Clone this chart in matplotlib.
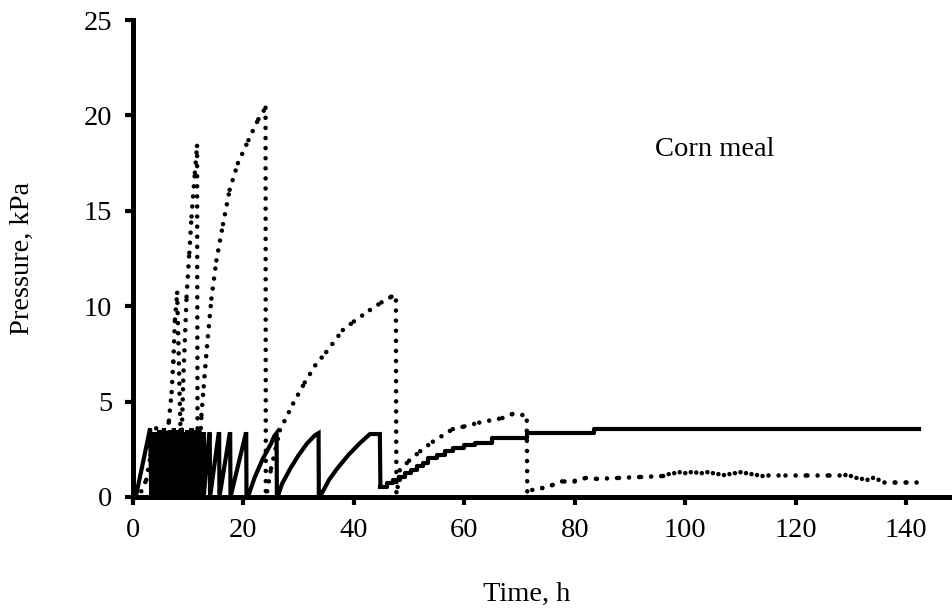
import numpy as np
import matplotlib
matplotlib.use("Agg")
import matplotlib.pyplot as plt
from matplotlib.collections import LineCollection

# ---------------- data ----------------
# Solid series: first tooth and the dense sawtooth burst (time h, pressure kPa)
solid_t = [0.5, 3.1, 3.3, 3.4,
           3.6, 3.6, 3.8, 3.8, 4.0, 4.0, 4.2, 4.2, 4.4, 4.4, 4.6, 4.6,
           4.8, 4.8, 5.0, 5.0, 5.2, 5.2, 5.4, 5.4, 5.6, 5.6, 5.8, 5.8,
           6.0, 6.0, 6.2, 6.2, 6.4, 6.4, 6.6, 6.6, 6.8, 6.8, 7.0, 7.0,
           7.2, 7.2, 7.4, 7.4, 7.6, 7.6, 7.8, 7.8, 8.0, 8.0, 8.2, 8.2,
           8.4, 8.4, 8.6, 8.6, 8.8, 8.8, 9.0, 9.0, 9.2, 9.2, 9.4, 9.4,
           9.6, 9.6, 9.8, 9.8, 10.0, 10.0, 10.2, 10.2, 10.4, 10.4,
           10.6, 10.6, 10.8, 10.8, 11.0, 11.0, 11.2, 11.2, 11.4, 11.4,
           11.6, 11.6, 11.8, 11.8, 12.0, 12.0, 12.2, 12.2, 12.4, 12.4,
           12.6, 12.6, 12.8, 12.8,
           13.8, 13.9, 13.95, 15.5, 15.6, 15.65, 17.5, 17.6, 17.65,
           20.4, 20.5, 20.55,
           20.8, 22.0, 23.5, 25.0, 25.6, 26.0, 26.05,
           26.3, 27.0, 28.5, 30.0, 31.5, 33.0, 33.6, 33.65,
           34.2, 35.5, 37.0, 39.0, 41.0, 42.9, 44.7, 44.8]
solid_p = [0.0, 3.6, 0.0, 0.0,
           3.3, 0.0, 3.4, 0.0, 3.3, 0.0, 3.4, 0.0, 3.3, 0.0, 3.4, 0.0,
           3.5, 0.0, 3.3, 0.0, 3.4, 0.0, 3.5, 0.0, 3.6, 0.0, 3.4, 0.0,
           3.3, 0.0, 3.4, 0.0, 3.3, 0.0, 3.4, 0.0, 3.5, 0.0, 3.3, 0.0,
           3.4, 0.0, 3.6, 0.0, 3.4, 0.0, 3.3, 0.0, 3.4, 0.0, 3.5, 0.0,
           3.3, 0.0, 3.4, 0.0, 3.6, 0.0, 3.4, 0.0, 3.3, 0.0, 3.4, 0.0,
           3.3, 0.0, 3.5, 0.0, 3.4, 0.0, 3.3, 0.0, 3.4, 0.0,
           3.6, 0.0, 3.4, 0.0, 3.3, 0.0, 3.5, 0.0, 3.4, 0.0,
           3.3, 0.0, 3.4, 0.0, 3.5, 0.0, 3.3, 0.0, 3.4, 0.0,
           3.3, 0.0, 3.4, 0.0,
           3.3, 3.3, 0.0, 3.3, 3.3, 0.0, 3.3, 3.3, 0.0,
           3.3, 3.3, 0.0,
           0.0, 1.0, 2.0, 2.8, 3.2, 3.35, 0.0,
           0.1, 0.7, 1.5, 2.2, 2.8, 3.25, 3.35, 0.0,
           0.2, 0.9, 1.5, 2.2, 2.8, 3.3, 3.3, 0.55]
# Solid series, staircase part (steps-post)
step_t = [44.8, 46.0, 47.0, 48.3, 49.3, 50.3, 51.5, 52.5, 53.5, 55.0, 56.5,
          58.0, 60.0, 62.0, 65.0, 71.4, 83.5, 142.3]
step_p = [0.55, 0.75, 0.9, 1.06, 1.25, 1.41, 1.6, 1.8, 2.03, 2.2, 2.4,
          2.55, 2.7, 2.85, 3.07, 3.35, 3.55, 3.55]

# Dotted series
dot_t = [0.0, 1.5, 2.4, 3.2, 4.2, 4.5, 5.5, 6.5, 7.0, 7.3, 7.6, 8.0,
         8.6, 8.8, 9.1, 9.7, 10.2, 10.6, 11.2, 11.6, 11.7,
         11.9, 12.4, 12.8, 13.4, 14.2, 15.1, 16.3, 17.5, 19.0, 20.9, 22.7, 24.0, 24.05,
         24.3, 25.0, 26.6, 29.0, 31.1, 33.0, 35.0, 38.0, 40.0, 42.9, 45.0, 46.8, 47.6, 47.7,
         48.3, 50.0, 52.0, 54.3, 57.9, 60.0, 62.7, 66.9, 68.7, 70.5, 71.3, 71.4,
         72.3, 74.1, 76.0, 78.0, 80.0, 82.0, 84.0, 88.0, 92.0, 96.0,
         97.0, 98.0, 99.0, 100.0, 101.0, 102.0, 103.0, 104.0, 105.0, 106.0,
         107.0, 108.0, 109.0, 110.0, 111.0, 112.0, 113.0, 114.0, 115.0,
         118.0, 122.0, 126.0, 129.0, 130.0, 131.0, 132.0, 133.0, 134.0, 135.0,
         136.0, 138.0, 140.0, 142.0]
dot_p = [0.0, 0.3, 0.9, 2.2, 3.6, 0.3, 1.8, 4.0, 5.5, 7.1, 9.3, 10.7,
         3.5, 3.0, 6.1, 10.5, 12.8, 14.7, 17.0, 18.4, 0.0,
         1.5, 4.3, 5.8, 7.9, 10.4, 12.4, 14.3, 16.1, 17.5, 18.7, 19.8, 20.4, 0.0,
         0.3, 1.5, 3.5, 4.9, 6.0, 6.9, 7.6, 8.75, 9.2, 9.8, 10.2, 10.5, 10.3, 0.0,
         1.4, 1.9, 2.4, 2.9, 3.56, 3.7, 3.9, 4.14, 4.35, 4.3, 4.0, 0.0,
         0.37, 0.47, 0.63, 0.85, 0.85, 1.0, 0.95, 1.0, 1.05, 1.1,
         1.2, 1.25, 1.3, 1.25, 1.3, 1.28, 1.25, 1.3, 1.25, 1.2,
         1.15, 1.2, 1.25, 1.3, 1.25, 1.2, 1.15, 1.1, 1.15,
         1.15, 1.15, 1.15, 1.15, 1.1, 1.0, 0.95, 0.9, 1.0, 0.9,
         0.8, 0.8, 0.8, 0.8]

x_ticks = [0, 20, 40, 60, 80, 100, 120, 140]
y_ticks = [0, 5, 10, 15, 20, 25]
label_text = "Corn meal"

# ---------------- figure ----------------
plt.rcParams['font.family'] = ['Liberation Serif', 'DejaVu Serif']
fig = plt.figure(figsize=(9.53, 6.14), dpi=100)
ax = fig.add_axes([133/953, 1 - 497/614, (952 - 133)/953, (497 - 20)/614])

ax.plot(solid_t, solid_p, color='black', lw=3.0, solid_joinstyle='miter', zorder=3)
ax.plot(step_t, step_p, color='black', lw=3.0, drawstyle='steps-post', zorder=3)

segs = [[(dot_t[i], dot_p[i]), (dot_t[i+1], dot_p[i+1])] for i in range(len(dot_t) - 1)]
lc = LineCollection(segs, colors='black', linewidths=3.3,
                    linestyles=[(0, (0.001, 2.2))], capstyle='round', zorder=2)
ax.add_collection(lc)

ax.set_xlim(0, 148.3)
ax.set_ylim(0, 25)
ax.set_xticks(x_ticks)
ax.set_yticks(y_ticks)
ax.tick_params(direction='out', length=6, width=3, labelsize=20.5, pad=9)
for side in ['top', 'right']:
    ax.spines[side].set_visible(False)
for side in ['left', 'bottom']:
    ax.spines[side].set_linewidth(3.6)

ax.set_xlabel("Time, h", fontsize=20.5)
ax.set_ylabel("Pressure, kPa", fontsize=20.5)
ax.xaxis.set_label_coords(0.481, -0.205)
ax.xaxis.label.set_va('center')
ax.yaxis.set_label_coords(-0.1355, 0.501)
ax.yaxis.label.set_va('center')

ax.text(105.4, 18.2, label_text, fontsize=20.5, ha='center', va='center')

fig.savefig("out.png", dpi=100)
